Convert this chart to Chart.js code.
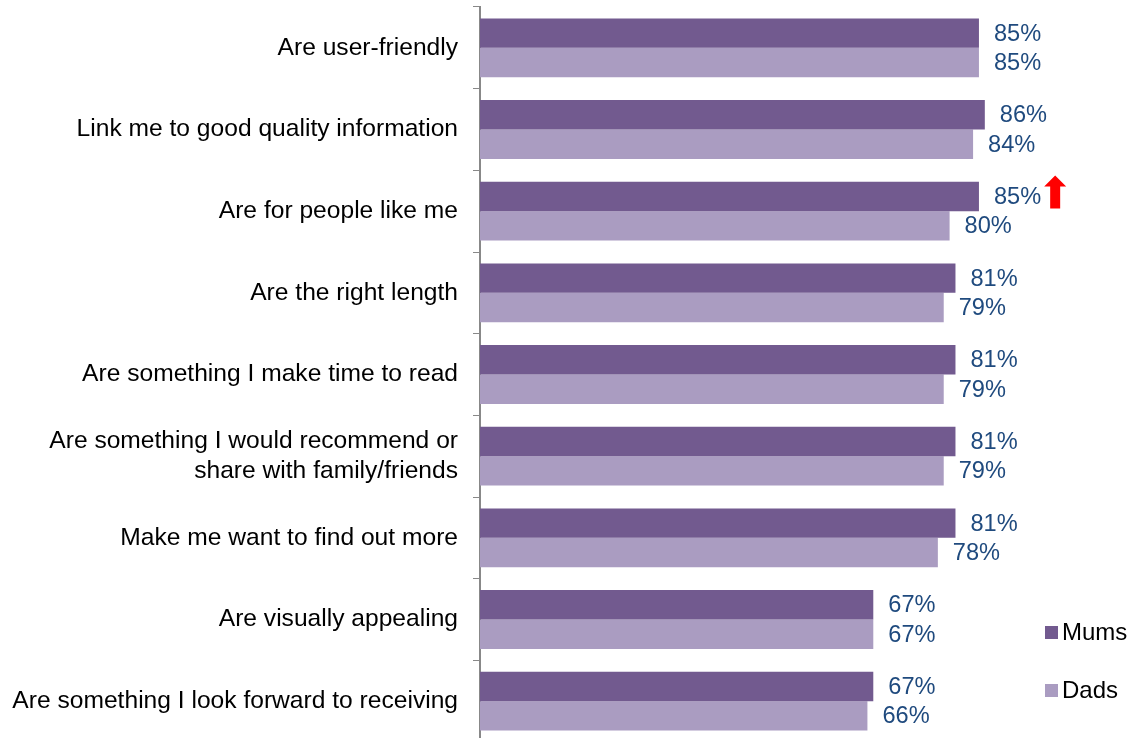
<!DOCTYPE html>
<html>
<head>
<meta charset="utf-8">
<script src="https://cdn.jsdelivr.net/npm/chart.js@4.4.1/dist/chart.umd.min.js"></script>
<style>
  html, body { margin: 0; padding: 0; background: #fff; overflow: hidden; }
  #outer { width: 1131px; height: 738px; overflow: hidden; }
  #wrap { position: relative; width: 1131px; height: 742px; }
</style>
</head>
<body>
<div id="outer"><div id="wrap"><canvas id="myChart"></canvas></div></div>
<script>
"use strict";

// categories, top to bottom
const categories = [
  "Are user-friendly",
  "Link me to good quality information",
  "Are for people like me",
  "Are the right length",
  "Are something I make time to read",
  ["Are something I would recommend or", "share with family/friends"],
  "Make me want to find out more",
  "Are visually appealing",
  "Are something I look forward to receiving",
];

// percentages
const mums = [85, 86, 85, 81, 81, 81, 81, 67, 67];
const dads = [85, 84, 80, 79, 79, 79, 78, 67, 66];

// index of category with a significant-increase arrow (Mums)
const arrowAt = [2];

const MUMS_COLOR = "#725a8f";
const DADS_COLOR = "#aa9cc1";
const LABEL_COLOR = "#1f4a7e";
const FONT = "'Liberation Sans', Arial, sans-serif";

// value labels + arrow + legend
const extrasPlugin = {
  id: "extras",
  afterDatasetsDraw(chart) {
    const ctx = chart.ctx;
    ctx.save();
    ctx.font = "23.6px " + FONT;
    ctx.textBaseline = "middle";
    ctx.textAlign = "left";
    chart.data.datasets.forEach((ds, di) => {
      const meta = chart.getDatasetMeta(di);
      meta.data.forEach((bar, i) => {
        const txt = ds.data[i] + "%";
        ctx.fillStyle = LABEL_COLOR;
        ctx.fillText(txt, bar.x + 15, bar.y + 1);
        if (di === 0 && arrowAt.includes(i)) {
          const w = ctx.measureText(txt).width;
          const ax = bar.x + 15 + w + 14;
          const top = bar.y - 21, bot = bar.y + 12;
          ctx.fillStyle = "#ff0000";
          ctx.beginPath();
          ctx.moveTo(ax, top);
          ctx.lineTo(ax + 11, top + 11);
          ctx.lineTo(ax + 5, top + 11);
          ctx.lineTo(ax + 5, bot);
          ctx.lineTo(ax - 5, bot);
          ctx.lineTo(ax - 5, top + 11);
          ctx.lineTo(ax - 11, top + 11);
          ctx.closePath();
          ctx.fill();
        }
      });
    });

    // legend at bottom right
    ctx.font = "24px " + FONT;
    const legend = [["Mums", MUMS_COLOR, 632], ["Dads", DADS_COLOR, 690]];
    legend.forEach(([name, color, y]) => {
      ctx.fillStyle = color;
      ctx.fillRect(1045, y - 6, 13, 13);
      ctx.fillStyle = "#000";
      ctx.fillText(name, 1062, y + 1);
    });
    ctx.restore();
  },
};

const ctx = document.getElementById("myChart").getContext("2d");

new Chart(ctx, {
  type: "bar",
  data: {
    labels: categories,
    datasets: [
      { label: "Mums", data: mums, backgroundColor: MUMS_COLOR },
      { label: "Dads", data: dads, backgroundColor: DADS_COLOR },
    ],
  },
  options: {
    indexAxis: "y",
    responsive: true,
    maintainAspectRatio: false,
    animation: false,
    layout: { padding: { top: 7, right: 64, bottom: 0, left: 0 } },
    datasets: {
      bar: { categoryPercentage: 0.72, barPercentage: 1.0 },
    },
    plugins: {
      legend: { display: false },
      tooltip: { enabled: false },
    },
    scales: {
      x: {
        display: false,
        min: 0,
        max: 100,
      },
      y: {
        afterFit(scale) {
          scale.width = 480;
          scale.paddingTop = 0;
          scale.paddingBottom = 0;
        },
        grid: {
          drawOnChartArea: false,
          color: "#888888",
          tickLength: 7,
          lineWidth: 1,
        },
        border: { color: "#888888", width: 2 },
        ticks: {
          color: "#000",
          padding: 15,
          font: { family: FONT, size: 24.6 },
        },
      },
    },
  },
  plugins: [extrasPlugin],
});
</script>
</body>
</html>
